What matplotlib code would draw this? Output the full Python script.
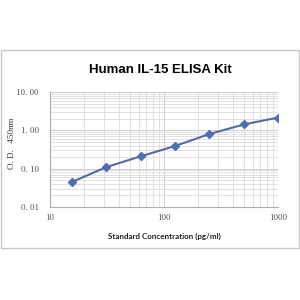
import matplotlib
matplotlib.use("Agg")
import matplotlib.pyplot as plt
from matplotlib.patches import Rectangle
from matplotlib.ticker import FixedLocator, LogLocator, NullFormatter

# standard curve data
conc = [15.6, 31.25, 62.5, 125, 250, 500, 1000]
od = [0.045, 0.11, 0.21, 0.39, 0.80, 1.42, 2.15]
y_ticks = [0.01, 0.1, 1, 10]
y_labels = ["0. 01", "0. 10", "1. 00", "10. 00"]
x_ticks = [10, 100, 1000]
x_labels = ["10", "100", "1000"]

fig = plt.figure(figsize=(3, 3), dpi=100)
fig.patch.set_facecolor("white")

# outer chart border
fig.patches.append(Rectangle((1 / 300, 1 - 248 / 300), 298 / 300, 198 / 300,
                             transform=fig.transFigure, fill=False,
                             edgecolor="#c8c8c8", linewidth=1))

ax = fig.add_axes([50 / 300, 1 - 207 / 300, 228 / 300, 115 / 300])
ax.set_xscale("log")
ax.set_yscale("log")
ax.set_xlim(10, 1000)
ax.set_ylim(0.01, 10)

ax.plot(conc, od, color="#5a68a0", linewidth=1.5, marker="D",
        markersize=4.5, markerfacecolor="#4f70b0", markeredgecolor="#4f70b0",
        zorder=3)

ax.yaxis.set_major_locator(FixedLocator(y_ticks))
ax.set_yticklabels(y_labels)
ax.xaxis.set_major_locator(FixedLocator(x_ticks))
ax.set_xticklabels(x_labels)
ax.xaxis.set_minor_locator(LogLocator(base=10, subs=range(2, 10)))
ax.yaxis.set_minor_locator(LogLocator(base=10, subs=range(2, 10)))
ax.xaxis.set_minor_formatter(NullFormatter())
ax.yaxis.set_minor_formatter(NullFormatter())

ax.grid(True, which="major", color="#d0d0d0", linewidth=0.8)
ax.grid(True, which="minor", color="#dcdcdc", linewidth=0.6)
ax.set_axisbelow(True)

for side in ["top", "right"]:
    ax.spines[side].set_visible(False)
for side in ["left", "bottom"]:
    ax.spines[side].set_color("#b0b0b0")
    ax.spines[side].set_linewidth(0.8)

ax.tick_params(which="both", length=0)
ax.tick_params(axis="y", pad=8, labelsize=6.5, labelcolor="#555555")
ax.tick_params(axis="x", pad=5, labelsize=6.5, labelcolor="#555555")
for lbl in ax.get_yticklabels() + ax.get_xticklabels():
    lbl.set_family("Liberation Serif")

fig.text(12 / 300, 1 - 143 / 300, "O. D.   450nm", rotation=90,
         ha="center", va="center", fontsize=6.5, family="Liberation Serif",
         color="#333333")
ax.set_xlabel("Standard Concentration (pg/ml)", fontsize=5.8,
              fontweight="bold", family="Lato", color="#222222", labelpad=8)

fig.text(160 / 300, 1 - 70 / 300, "Human IL-15 ELISA Kit", ha="center",
         va="center", fontsize=9.5, fontweight="bold", family="Liberation Sans")

fig.savefig("out.png", dpi=100)
